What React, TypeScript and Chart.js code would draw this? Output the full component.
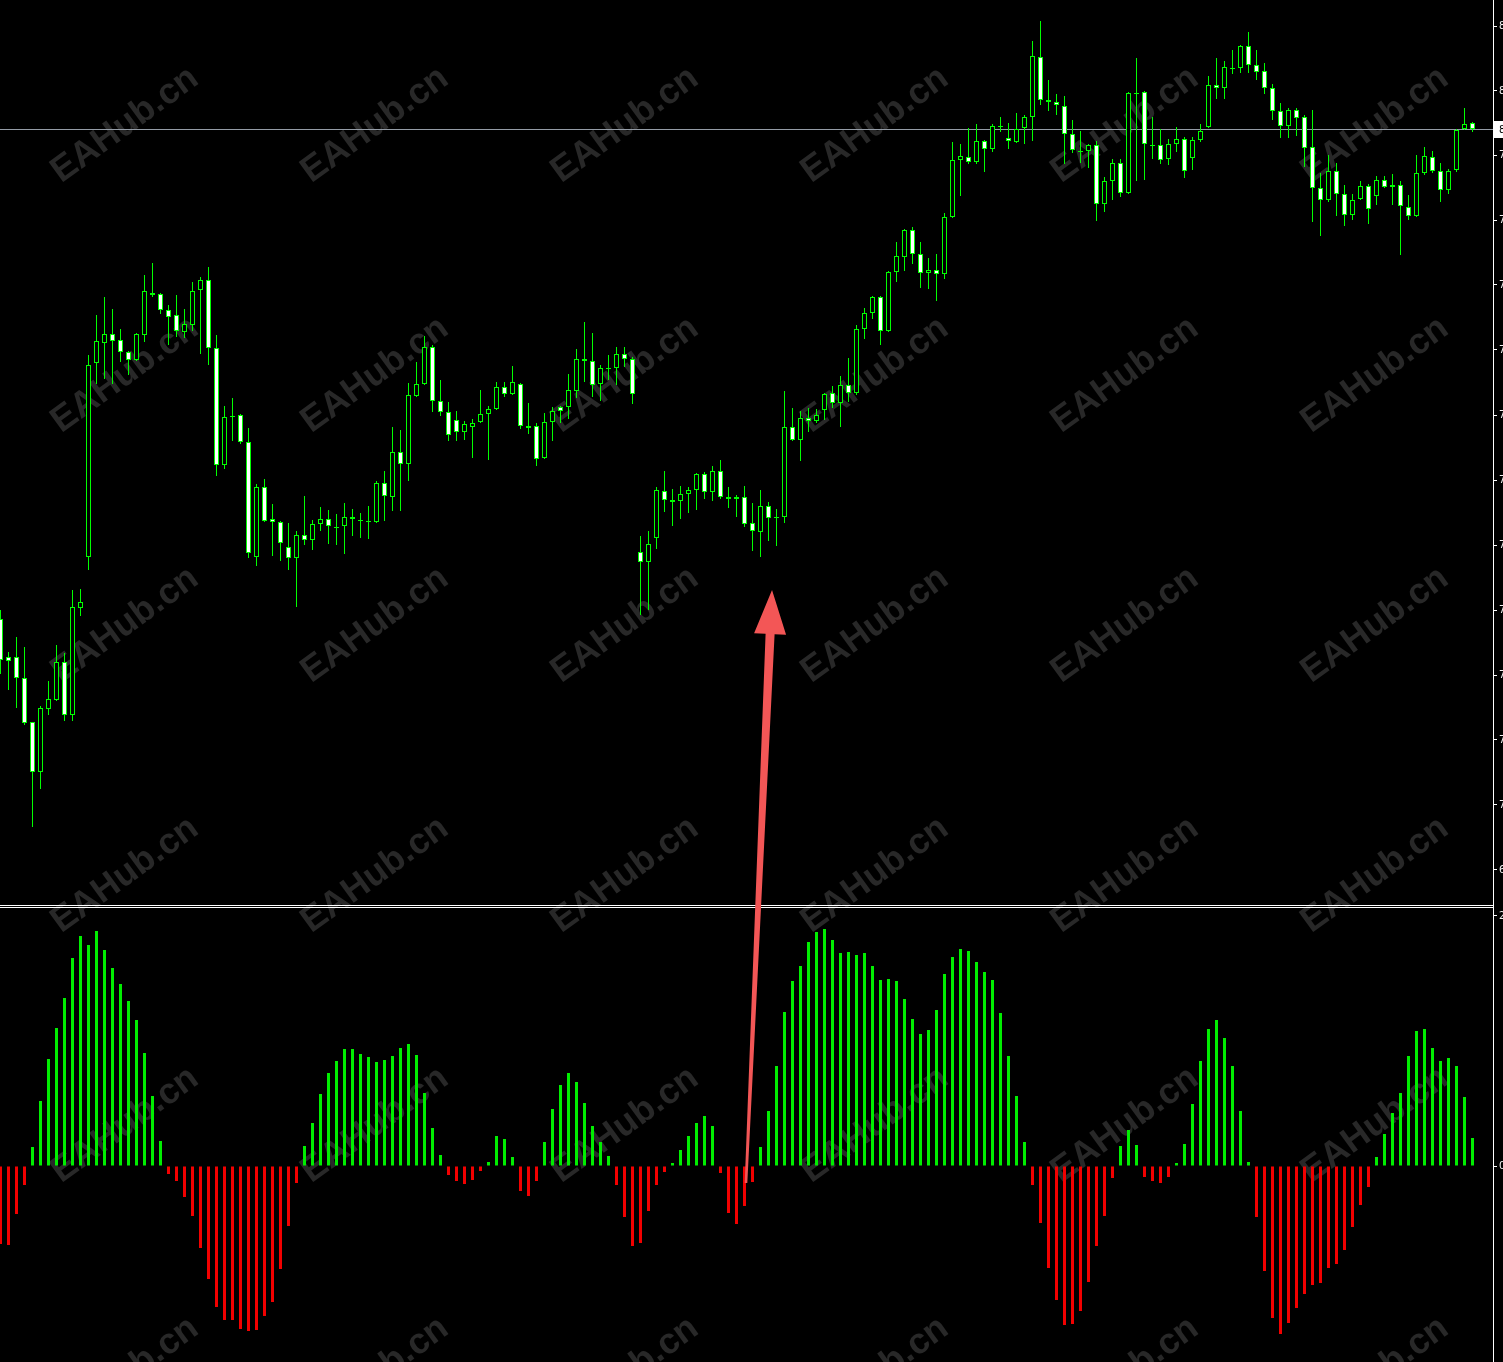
import React, { useEffect, useRef } from "react";
import { Chart, registerables } from "chart.js";

Chart.register(...registerables);

// ---------- data ----------
const opens = [
  7.2915, 7.2345, 7.2345, 7.203, 7.137, 7.062, 7.1565, 7.17, 7.227, 7.1475,
  7.308, 7.3845, 7.6755, 7.7055, 7.719, 7.71, 7.692, 7.68, 7.7175, 7.7805,
  7.779, 7.755, 7.7475, 7.722, 7.7325, 7.785, 7.8, 7.698, 7.5225, 7.596,
  7.5975, 7.557, 7.3845, 7.4895, 7.4415, 7.437, 7.3995, 7.383, 7.4175, 7.41,
  7.434, 7.4415, 7.4295, 7.431, 7.4445, 7.44, 7.4385, 7.437, 7.4955, 7.4745,
  7.542, 7.524, 7.626, 7.644, 7.6995, 7.6185, 7.602, 7.59, 7.572, 7.5795,
  7.587, 7.599, 7.6065, 7.6395, 7.629, 7.644, 7.581, 7.581, 7.533, 7.587,
  7.6095, 7.6095, 7.6335, 7.6815, 7.6785, 7.644, 7.668, 7.668, 7.689, 7.6815,
  7.392, 7.377, 7.413, 7.4835, 7.47, 7.4685, 7.479, 7.485, 7.509, 7.482,
  7.5135, 7.4745, 7.4715, 7.4745, 7.4355, 7.422, 7.461, 7.443, 7.4445, 7.5795,
  7.56, 7.593, 7.5885, 7.605, 7.6305, 7.6155, 7.6425, 7.6305, 7.7265, 7.7505,
  7.7745, 7.7235, 7.812, 7.8345, 7.875, 7.839, 7.8105, 7.815, 7.809, 7.8945,
  7.98, 7.9845, 7.977, 8.0085, 7.9965, 8.031, 8.013, 8.007, 8.028, 8.0445,
  8.1345, 8.07, 8.067, 8.061, 8.019, 7.9935, 7.9935, 8.0025, 7.914, 7.9485,
  7.9755, 7.9305, 8.0805, 8.082, 8.0025, 8.0025, 7.9815, 8.004, 8.0115, 7.983,
  8.01, 8.0295, 8.0925, 8.088, 8.118, 8.118, 8.151, 8.1225, 8.1135, 8.088,
  8.0535, 8.031, 8.055, 8.0445, 7.9995, 7.938, 7.92, 7.9635, 7.929, 7.8975,
  7.9215, 7.941, 7.926, 7.95, 7.9395, 7.9425, 7.9095, 7.896, 7.9605, 7.9845,
  7.9635, 7.935, 7.965, 8.0265, 8.0355,
];
const highs = [
  7.305, 7.242, 7.2645, 7.2495, 7.137, 7.161, 7.1985, 7.2525, 7.2405, 7.335,
  7.3365, 7.6875, 7.7475, 7.7745, 7.7565, 7.7265, 7.6935, 7.7205, 7.8075, 7.8255,
  7.7805, 7.7625, 7.7775, 7.7565, 7.797, 7.8045, 7.8195, 7.7175, 7.611, 7.623,
  7.599, 7.578, 7.494, 7.5015, 7.464, 7.4385, 7.4355, 7.4235, 7.476, 7.44,
  7.4595, 7.455, 7.449, 7.4655, 7.4565, 7.4505, 7.461, 7.4985, 7.5135, 7.5795,
  7.575, 7.6455, 7.677, 7.716, 7.7025, 7.65, 7.617, 7.6035, 7.5885, 7.5915,
  7.635, 7.611, 7.647, 7.647, 7.671, 7.6455, 7.6155, 7.5855, 7.6005, 7.6095,
  7.611, 7.659, 7.6965, 7.737, 7.7205, 7.6725, 7.6875, 7.6995, 7.6995, 7.6845,
  7.416, 7.4235, 7.4895, 7.5135, 7.4865, 7.491, 7.4895, 7.5105, 7.512, 7.521,
  7.53, 7.4895, 7.4775, 7.491, 7.4655, 7.485, 7.467, 7.4565, 7.6335, 7.608,
  7.6035, 7.608, 7.6065, 7.6305, 7.641, 7.656, 7.683, 7.7325, 7.758, 7.776,
  7.776, 7.8135, 7.857, 7.8765, 7.8795, 7.857, 7.833, 7.839, 7.9005, 8.007,
  8.004, 8.028, 8.034, 8.01, 8.034, 8.0445, 8.0355, 8.0505, 8.0475, 8.1585,
  8.1885, 8.1, 8.079, 8.076, 8.04, 8.0235, 8.004, 8.0085, 7.9545, 7.9815,
  7.9815, 8.082, 8.133, 8.0835, 8.0445, 8.0265, 8.0115, 8.0295, 8.0145, 8.0145,
  8.034, 8.106, 8.133, 8.1285, 8.145, 8.1525, 8.172, 8.145, 8.1255, 8.094,
  8.0655, 8.058, 8.058, 8.0475, 8.055, 7.9605, 7.9875, 7.9755, 7.9425, 7.929,
  7.9485, 7.944, 7.956, 7.956, 7.959, 7.9485, 7.9275, 7.9875, 7.9995, 7.9935,
  7.9755, 7.9665, 8.0265, 8.058, 8.037,
];
const lows = [
  7.209, 7.185, 7.158, 7.1325, 6.9795, 7.0365, 7.1475, 7.1685, 7.1385, 7.1385,
  7.296, 7.365, 7.644, 7.6515, 7.644, 7.677, 7.6575, 7.6785, 7.707, 7.7745,
  7.749, 7.7025, 7.7145, 7.713, 7.7235, 7.689, 7.6725, 7.506, 7.5165, 7.5585,
  7.554, 7.383, 7.371, 7.437, 7.386, 7.3785, 7.365, 7.3095, 7.4025, 7.395,
  7.4235, 7.404, 7.4025, 7.389, 7.416, 7.413, 7.4115, 7.4355, 7.4385, 7.4535,
  7.4535, 7.4985, 7.6245, 7.6425, 7.602, 7.596, 7.5585, 7.5585, 7.56, 7.533,
  7.5855, 7.53, 7.605, 7.6245, 7.6275, 7.5765, 7.569, 7.521, 7.5315, 7.5585,
  7.5855, 7.5915, 7.623, 7.647, 7.6245, 7.6185, 7.65, 7.6425, 7.6695, 7.614,
  7.2975, 7.305, 7.3965, 7.452, 7.431, 7.4415, 7.4505, 7.455, 7.4715, 7.4685,
  7.4715, 7.458, 7.4445, 7.4295, 7.3935, 7.3845, 7.4085, 7.401, 7.4355, 7.5585,
  7.5285, 7.572, 7.5855, 7.59, 7.608, 7.5795, 7.617, 7.6275, 7.7115, 7.7415,
  7.7025, 7.722, 7.797, 7.8135, 7.824, 7.788, 7.7865, 7.7685, 7.8015, 7.893,
  7.926, 7.974, 7.974, 7.962, 7.992, 8.022, 7.9965, 8.0055, 8.004, 8.0085,
  8.0625, 8.0535, 8.0475, 7.974, 7.9905, 7.9755, 7.968, 7.8885, 7.902, 7.92,
  7.9245, 7.929, 7.9485, 7.95, 7.9815, 7.974, 7.9725, 7.992, 7.953, 7.965,
  8.007, 8.028, 8.0715, 8.0715, 8.109, 8.1105, 8.1105, 8.1, 8.079, 8.04,
  8.013, 8.013, 8.016, 7.9695, 7.887, 7.866, 7.917, 7.896, 7.881, 7.89,
  7.92, 7.884, 7.9125, 7.938, 7.9125, 7.8375, 7.89, 7.8945, 7.9575, 7.9605,
  7.917, 7.929, 7.962, 8.025, 8.022,
];
const closes = [
  7.23, 7.2285, 7.203, 7.1355, 7.062, 7.158, 7.1715, 7.227, 7.1475, 7.3095,
  7.317, 7.6725, 7.7085, 7.719, 7.7085, 7.692, 7.68, 7.719, 7.7835, 7.7775,
  7.755, 7.7445, 7.7235, 7.734, 7.7835, 7.8, 7.698, 7.5225, 7.5945, 7.5945,
  7.557, 7.3905, 7.4895, 7.4385, 7.437, 7.4055, 7.383, 7.4175, 7.41, 7.434,
  7.4415, 7.431, 7.428, 7.4445, 7.4415, 7.4385, 7.437, 7.4955, 7.476, 7.542,
  7.524, 7.6275, 7.644, 7.6995, 7.6185, 7.602, 7.5675, 7.572, 7.584, 7.5855,
  7.599, 7.6065, 7.6395, 7.629, 7.647, 7.581, 7.578, 7.5315, 7.587, 7.6035,
  7.6035, 7.635, 7.6815, 7.6785, 7.6425, 7.668, 7.6665, 7.689, 7.6815, 7.629,
  7.377, 7.404, 7.485, 7.47, 7.467, 7.479, 7.485, 7.509, 7.482, 7.5135,
  7.4745, 7.4715, 7.4745, 7.434, 7.4235, 7.461, 7.443, 7.4445, 7.5795, 7.56,
  7.593, 7.5885, 7.5975, 7.629, 7.6155, 7.6425, 7.6305, 7.7265, 7.7505, 7.7745,
  7.7235, 7.812, 7.836, 7.875, 7.839, 7.8105, 7.815, 7.809, 7.8945, 7.98,
  7.986, 7.977, 8.0085, 7.9965, 8.031, 8.0295, 8.0085, 8.0265, 8.0445, 8.136,
  8.07, 8.067, 8.0625, 8.019, 7.995, 7.992, 8.0025, 7.914, 7.9485, 7.9755,
  7.9305, 8.0805, 8.079, 8.004, 8.001, 7.98, 8.004, 8.0115, 7.9635, 8.01,
  8.0235, 8.0925, 8.088, 8.1195, 8.1165, 8.151, 8.1225, 8.112, 8.088, 8.0535,
  8.031, 8.055, 8.043, 7.998, 7.938, 7.92, 7.9635, 7.929, 7.8975, 7.92,
  7.941, 7.9065, 7.95, 7.9395, 7.9425, 7.911, 7.896, 7.9605, 7.986, 7.9635,
  7.935, 7.9635, 8.025, 8.034, 8.0265,
];
const histogram = [
  -0.624, -0.632, -0.384, -0.152, 0.152, 0.52, 0.856, 1.104, 1.344, 1.664,
  1.84, 1.768, 1.88, 1.728, 1.584, 1.456, 1.32, 1.168, 0.904, 0.56,
  0.2, -0.064, -0.12, -0.248, -0.4, -0.656, -0.904, -1.128, -1.232, -1.232,
  -1.304, -1.32, -1.312, -1.2, -1.088, -0.824, -0.48, -0.136, 0.16, 0.344,
  0.576, 0.744, 0.84, 0.936, 0.936, 0.896, 0.872, 0.832, 0.848, 0.88,
  0.944, 0.976, 0.888, 0.584, 0.304, 0.088, -0.072, -0.12, -0.144, -0.112,
  -0.04, 0.032, 0.24, 0.216, 0.072, -0.2, -0.24, -0.12, 0.192, 0.456,
  0.648, 0.744, 0.672, 0.504, 0.32, 0.192, 0.08, -0.152, -0.408, -0.64,
  -0.616, -0.36, -0.152, -0.048, 0.024, 0.128, 0.24, 0.344, 0.4, 0.32,
  -0.056, -0.376, -0.464, -0.32, -0.128, 0.152, 0.44, 0.8, 1.232, 1.48,
  1.6, 1.792, 1.872, 1.896, 1.808, 1.704, 1.712, 1.688, 1.704, 1.6,
  1.488, 1.496, 1.48, 1.336, 1.176, 1.056, 1.088, 1.248, 1.536, 1.672,
  1.736, 1.72, 1.632, 1.552, 1.488, 1.224, 0.88, 0.56, 0.192, -0.152,
  -0.456, -0.816, -1.072, -1.272, -1.264, -1.16, -0.928, -0.64, -0.4, -0.096,
  0.16, 0.288, 0.168, -0.088, -0.12, -0.136, -0.088, 0.024, 0.176, 0.496,
  0.84, 1.096, 1.168, 1.024, 0.8, 0.44, 0.032, -0.408, -0.84, -1.216,
  -1.344, -1.256, -1.136, -1.024, -0.952, -0.936, -0.816, -0.784, -0.672, -0.488,
  -0.312, -0.168, 0.072, 0.256, 0.424, 0.584, 0.88, 1.08, 1.096, 0.944,
  0.84, 0.864, 0.8, 0.552, 0.224,
];
const barIndex = opens.map((_, i) => i);
const priceTicks = [
  8.181, 8.0835, 7.9875, 7.89, 7.7925, 7.695, 7.5975, 7.5, 7.4025, 7.305,
  7.2075, 7.11, 7.0125, 6.915,
];
const histTicks = [2, 0];
const WATERMARK = "EAHub.cn";
// annotation arrow (bar index / indicator value -> bar index / price)
const arrowFrom = { bar: 93.19, hist: -0.136 };
const arrowTo = { bar: 96.44, price: 7.335 };

// ---------- styles ----------
const LIME = "#00ff00";
const HIST_UP = "#00ee00";
const HIST_DOWN = "#f20000";
const AXIS = "#ffffff";
const CANVAS_W = 1560;
const CANVAS_H = 1362;

const bgPlugin = {
  id: "mt4bg",
  beforeDraw(chart: any) {
    const ctx = chart.ctx;
    ctx.save();
    ctx.fillStyle = "#000";
    ctx.fillRect(0, 0, chart.width, chart.height);
    ctx.font = 'bold 36px "Liberation Sans", Arial, sans-serif';
    ctx.fillStyle = "#282828";
    ctx.textAlign = "center";
    ctx.textBaseline = "middle";
    for (let r = 0; r < 6; r++) {
      for (let c = 0; c < 6; c++) {
        ctx.save();
        ctx.translate(125 + 250 * c, 125 + 250 * r);
        ctx.rotate((-36 * Math.PI) / 180);
        ctx.fillText(WATERMARK, 0, 0);
        ctx.restore();
      }
    }
    ctx.restore();
  },
  beforeDatasetsDraw(chart: any) {
    const ctx = chart.ctx;
    const area = chart.chartArea;
    const y = Math.round(chart.scales.y.getPixelForValue(closes[closes.length - 1]));
    ctx.save();
    ctx.fillStyle = "#949ca6";
    ctx.fillRect(area.left, y, area.right - area.left, 1);
    ctx.restore();
  },
  afterDatasetsDraw(chart: any) {
    const ctx = chart.ctx;
    const area = chart.chartArea;
    const yPrice = chart.scales.y;
    const yHist = chart.scales.yh;
    const xs = chart.scales.x;
    ctx.save();
    // pane separator
    ctx.fillStyle = AXIS;
    const sep = Math.round(yPrice.bottom);
    ctx.fillRect(area.left, sep - 1, area.right - area.left, 1);
    ctx.fillRect(area.left, sep + 1, area.right - area.left, 1);
    // arrow
    const x1 = xs.getPixelForValue(arrowFrom.bar);
    const y1 = yHist.getPixelForValue(arrowFrom.hist);
    const x2 = xs.getPixelForValue(arrowTo.bar);
    const y2 = yPrice.getPixelForValue(arrowTo.price);
    const dx = x2 - x1;
    const dy = y2 - y1;
    const len = Math.sqrt(dx * dx + dy * dy);
    const ux = dx / len;
    const uy = dy / len;
    const nx = -uy;
    const ny = ux;
    const headLen = 44;
    const headHalf = 16;
    const bx = x2 - ux * headLen;
    const by = y2 - uy * headLen;
    ctx.fillStyle = "#f35656";
    ctx.beginPath();
    ctx.moveTo(x1 + nx * 1.3, y1 + ny * 1.3);
    ctx.lineTo(bx + nx * 4.5, by + ny * 4.5);
    ctx.lineTo(bx + nx * headHalf, by + ny * headHalf);
    ctx.lineTo(x2, y2);
    ctx.lineTo(bx - nx * headHalf, by - ny * headHalf);
    ctx.lineTo(bx - nx * 4.5, by - ny * 4.5);
    ctx.lineTo(x1 - nx * 1.3, y1 - ny * 1.3);
    ctx.closePath();
    ctx.fill();
    ctx.restore();
  },
  afterDraw(chart: any) {
    const ctx = chart.ctx;
    const area = chart.chartArea;
    const last = closes[closes.length - 1];
    const y = Math.round(chart.scales.y.getPixelForValue(last));
    ctx.save();
    ctx.fillStyle = "#ffffff";
    ctx.fillRect(area.right + 1, y - 8, 70, 17);
    ctx.fillStyle = "#000000";
    ctx.font = '10px "DejaVu Sans", sans-serif';
    ctx.textAlign = "left";
    ctx.textBaseline = "middle";
    ctx.fillText(last.toFixed(4), area.right + 6, y + 1);
    ctx.restore();
  },
};

const axisCommon = {
  type: "linear",
  position: "right",
  stack: "panes",
  grid: {
    display: true,
    drawOnChartArea: false,
    drawTicks: true,
    tickLength: 4,
    color: AXIS,
    lineWidth: 1,
  },
  border: { display: true, color: AXIS, width: 1 },
  ticks: {
    autoSkip: false,
    color: "#f2f2f2",
    padding: 2,
    font: { family: '"DejaVu Sans", sans-serif', size: 10 },
    callback: (v: any) => Number(v).toFixed(4),
  },
  afterFit: (s: any) => {
    s.width = 67;
    s.paddingTop = 0;
    s.paddingBottom = 0;
  },
};

export default function App() {
  const ref = useRef<HTMLCanvasElement>(null);
  useEffect(() => {
    const canvas = ref.current;
    if (!canvas) return;
    const chart = new Chart(canvas, {
      type: "bar",
      data: {
        datasets: [
          {
            label: "wick",
            data: barIndex.map((i) => ({ x: i, y: [lows[i], highs[i]] })),
            backgroundColor: LIME,
            borderWidth: 0,
            barThickness: 1,
            grouped: false,
            inflateAmount: 0,
            yAxisID: "y",
            order: 3,
          },
          {
            label: "body",
            data: barIndex.map((i) => ({ x: i, y: [opens[i], closes[i]] })),
            backgroundColor: barIndex.map((i) => (closes[i] >= opens[i] ? "#000000" : "#ffffff")),
            borderColor: LIME,
            borderWidth: 1,
            borderSkipped: false,
            barThickness: 5,
            grouped: false,
            inflateAmount: 0,
            yAxisID: "y",
            order: 2,
          },
          {
            label: "histogram",
            data: barIndex.map((i) => ({ x: i, y: histogram[i] })),
            backgroundColor: histogram.map((v) => (v >= 0 ? HIST_UP : HIST_DOWN)),
            borderWidth: 0,
            barThickness: 3,
            grouped: false,
            inflateAmount: 0,
            yAxisID: "yh",
            order: 1,
          },
        ] as any,
      },
      options: {
        responsive: false,
        maintainAspectRatio: false,
        devicePixelRatio: 1,
        animation: false,
        events: [],
        layout: { padding: 0 },
        plugins: {
          legend: { display: false },
          tooltip: { enabled: false },
          title: { display: false },
        },
        scales: {
          x: {
            type: "linear",
            display: false,
            min: -0.0625,
            max: 186.5625,
            offset: false,
          },
          y: {
            ...axisCommon,
            weight: 0,
            stackWeight: 906,
            min: 6.861,
            max: 8.22,
            afterBuildTicks: (s: any) => {
              s.ticks = priceTicks.map((v) => ({ value: v }));
            },
          },
          yh: {
            ...axisCommon,
            weight: 1,
            stackWeight: 456,
            min: -1.568,
            max: 2.08,
            afterBuildTicks: (s: any) => {
              s.ticks = histTicks.map((v) => ({ value: v }));
            },
          },
        } as any,
      },
      plugins: [bgPlugin],
    });
    return () => chart.destroy();
  }, []);

  return (
    <div
      style={{
        position: "fixed",
        left: 0,
        top: 0,
        width: 1503,
        height: 1362,
        overflow: "hidden",
        background: "#000",
      }}
    >
      <canvas
        ref={ref}
        width={CANVAS_W}
        height={CANVAS_H}
        style={{ display: "block", width: CANVAS_W, height: CANVAS_H }}
      />
    </div>
  );
}
